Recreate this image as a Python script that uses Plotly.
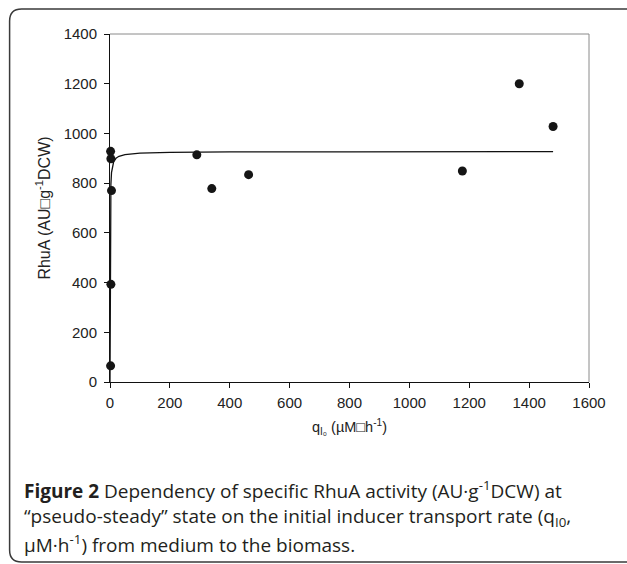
import plotly.graph_objects as go

# Measured specific RhuA activity vs. initial inducer transport rate
q_i0 = [2, 3, 5, 3, 2, 290, 340, 463, 1177, 1367, 1480]
rhua = [65, 393, 770, 898, 928, 914, 778, 834, 849, 1200, 1028]

# Saturation fit line, sampled along its course
fit_q = [0, 0.25, 0.5, 1, 2, 3, 5, 8, 12, 20, 30, 50, 100, 200, 400, 800, 1200, 1480]
fit_rhua = [0, 300, 460, 618, 742, 795, 842, 870, 885, 900, 908, 915, 921, 924, 926, 926, 927, 927]

x_ticks = [0, 200, 400, 600, 800, 1000, 1200, 1400, 1600]
y_ticks = [0, 200, 400, 600, 800, 1000, 1200, 1400]

W, H = 627, 564
L, R, T, B = 109.5, 589, 34, 382


def px(x):
    return (x - L) / (R - L)


def py(y):
    return (B - y) / (B - T)


fig = go.Figure()

fig.add_trace(go.Scatter(
    x=fit_q, y=fit_rhua, mode="lines",
    line=dict(color="#111111", width=1.3),
    hoverinfo="skip", showlegend=False, cliponaxis=False,
))
fig.add_trace(go.Scatter(
    x=q_i0, y=rhua, mode="markers",
    marker=dict(color="#151515", size=9, line=dict(width=0)),
    showlegend=False, cliponaxis=False,
))

family = "Liberation Sans, Arial, sans-serif"
tick_font = dict(family=family, size=15, color="#222222")

fig.update_xaxes(
    range=[0, 1600], tickvals=x_ticks, ticks="outside", ticklen=5,
    tickcolor="#111111", tickwidth=1, showline=True, linecolor="#111111",
    linewidth=1, showgrid=False, zeroline=False, tickfont=tick_font,
    ticklabelstandoff=2,
    title=dict(text="q<sub>I₀</sub> (µM□h<sup>-1</sup>)",
               font=dict(family=family, size=14.5, color="#222222"), standoff=11),
)
fig.update_yaxes(
    range=[0, 1400], tickvals=y_ticks, ticks="outside", ticklen=5,
    tickcolor="#111111", tickwidth=1, showline=True, linecolor="#111111",
    linewidth=1, showgrid=False, zeroline=False, tickfont=tick_font,
    ticklabelstandoff=4,
    title=dict(text="RhuA (AU□g<sup>-1</sup>DCW)",
               font=dict(family=family, size=16, color="#222222"), standoff=9),
)

shapes = [
    # top and right plot border in grey
    dict(type="line", xref="paper", yref="paper", x0=0, y0=1, x1=1, y1=1,
         line=dict(color="#8a8a8a", width=1)),
    dict(type="line", xref="paper", yref="paper", x0=1, y0=0, x1=1, y1=1,
         line=dict(color="#8a8a8a", width=1)),
]

# rounded outer frame around figure and caption
fx0, fy0, fx1, fy1, rad = 9, 9, 640, 562, 12
path = (
    f"M {px(fx1)},{py(fy0)} L {px(fx0 + rad)},{py(fy0)} "
    f"Q {px(fx0)},{py(fy0)} {px(fx0)},{py(fy0 + rad)} "
    f"L {px(fx0)},{py(fy1 - rad)} "
    f"Q {px(fx0)},{py(fy1)} {px(fx0 + rad)},{py(fy1)} "
    f"L {px(fx1)},{py(fy1)}"
)
shapes.append(dict(type="path", xref="paper", yref="paper", path=path,
                   line=dict(color="#3a3a3a", width=1.5)))

cap_font = dict(family="Open Sans, Noto Sans, sans-serif", size=19, color="#231f20")
caption = [
    (490, "<b>Figure 2</b> Dependency of specific RhuA activity (AU·g<sup>-1</sup>DCW) at"),
    (517, "“pseudo-steady” state on the initial inducer transport rate (q<sub>I0</sub>,"),
    (544, "µM·h<sup>-1</sup>) from medium to the biomass."),
]
annotations = []
for yline, txt in caption:
    annotations.append(dict(
        text=txt, xref="paper", yref="paper", x=px(21), y=py(yline),
        xanchor="left", yanchor="middle", showarrow=False, font=cap_font,
    ))

fig.update_layout(
    width=W, height=H,
    margin=dict(l=L, r=W - R, t=T, b=H - B, pad=0),
    paper_bgcolor="white", plot_bgcolor="white",
    shapes=shapes, annotations=annotations,
)

fig.write_html("out.html")
